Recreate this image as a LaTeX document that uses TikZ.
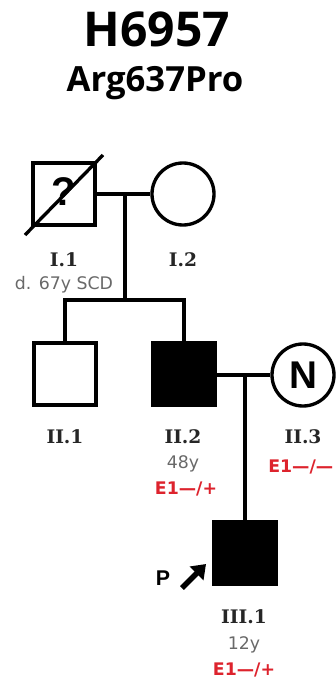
\documentclass[tikz,border=0pt]{standalone}
\usepackage{fontspec}
\usepackage{xcolor}
\usetikzlibrary{arrows.meta}

\newfontfamily\titlefont{Open Sans}
\newfontfamily\idfont{DejaVu Serif}
\newfontfamily\notefont{DejaVu Sans}
\newfontfamily\symfont{Liberation Sans}

\definecolor{gtred}{RGB}{221,35,45}
\definecolor{notegray}{RGB}{105,105,105}

\begin{document}
\begin{tikzpicture}[x=0.75pt,y=0.75pt,yscale=-1,xscale=1,
  rel/.style={line width=2.5pt},
  male/.style={draw,rectangle,line width=2.5pt,minimum size=46.5pt,inner sep=0pt},
  female/.style={draw,circle,line width=2.5pt,minimum size=46.5pt,inner sep=0pt},
  idlabel/.style={font=\idfont\bfseries\fontsize{14}{16}\selectfont,text=black!85},
  notelabel/.style={font=\notefont\fontsize{13}{15}\selectfont,text=notegray},
  gtlabel/.style={font=\notefont\bfseries\fontsize{13}{15}\selectfont,text=gtred}]
\useasboundingbox (0,0) rectangle (335,684);

% Title
\node (title) [anchor=base,font=\titlefont\bfseries\fontsize{36}{40}\selectfont] at (157,47) {H6957};
\node (variant) [anchor=base,font=\titlefont\bfseries\fontsize{26}{30}\selectfont] at (155,92) {Arg637Pro};

% Generation I
\node (I1) [male] at (64,194) {};
\node (I1q) [font=\symfont\bfseries\fontsize{30}{32}\selectfont] at (64,192) {?};
\draw [rel] (25,235) -- (103,155);
\node (I2) [female] at (183,194) {};
\coordinate (m1) at (125,194);
\draw [rel] (I1.east) -- (I2.west);

% Generation II
\node (II1) [male] at (65,374) {};
\node (II2) [male,fill=black] at (184,374) {};
\node (II3) [female] at (303,375) {};
\node (II3n) [font=\symfont\bfseries\fontsize{29}{31}\selectfont] at (303,375) {N};
\coordinate (sib) at (125,300);
\draw [rel] (m1) -- (sib);
\draw [rel] (II1.north) |- (sib) -| (II2.north);
\draw [rel] (II2.east |- II3.west) -- (II3.west);
\coordinate (m2) at (245,375);

% Generation III
\node (III1) [male,fill=black] at (245,553) {};
\draw [rel] (m2) -- (III1.north);

% Proband arrow
\node (P) [font=\symfont\bfseries\fontsize{16}{18}\selectfont] at (163,578) {P};
\coordinate (arrtail) at (182,588);
\draw [line width=4.2pt,-{Triangle[length=10pt,width=14pt]}] (arrtail) -- (206,564);

% Text Node
\node (I1id) [idlabel] at (64,260) {I.1};
\node (I1note) [notelabel] at (64,285) {d. 67y SCD};
\node (I2id) [idlabel] at (183,260) {I.2};
\node (II1id) [idlabel] at (65,437) {II.1};
\node (II2id) [idlabel] at (183,437) {II.2};
\node (II2age) [notelabel] at (183,464) {48y};
\node (II2gt) [gtlabel] at (186,489) {E1—/+};
\node (II3id) [idlabel] at (303,437) {II.3};
\node (II3gt) [gtlabel,anchor=west,inner sep=0pt] at (268,467) {E1—/—};
\node (III1id) [idlabel] at (244,617) {III.1};
\node (III1age) [notelabel] at (244,645) {12y};
\node (III1gt) [gtlabel] at (244,670) {E1—/+};

\end{tikzpicture}
\end{document}
